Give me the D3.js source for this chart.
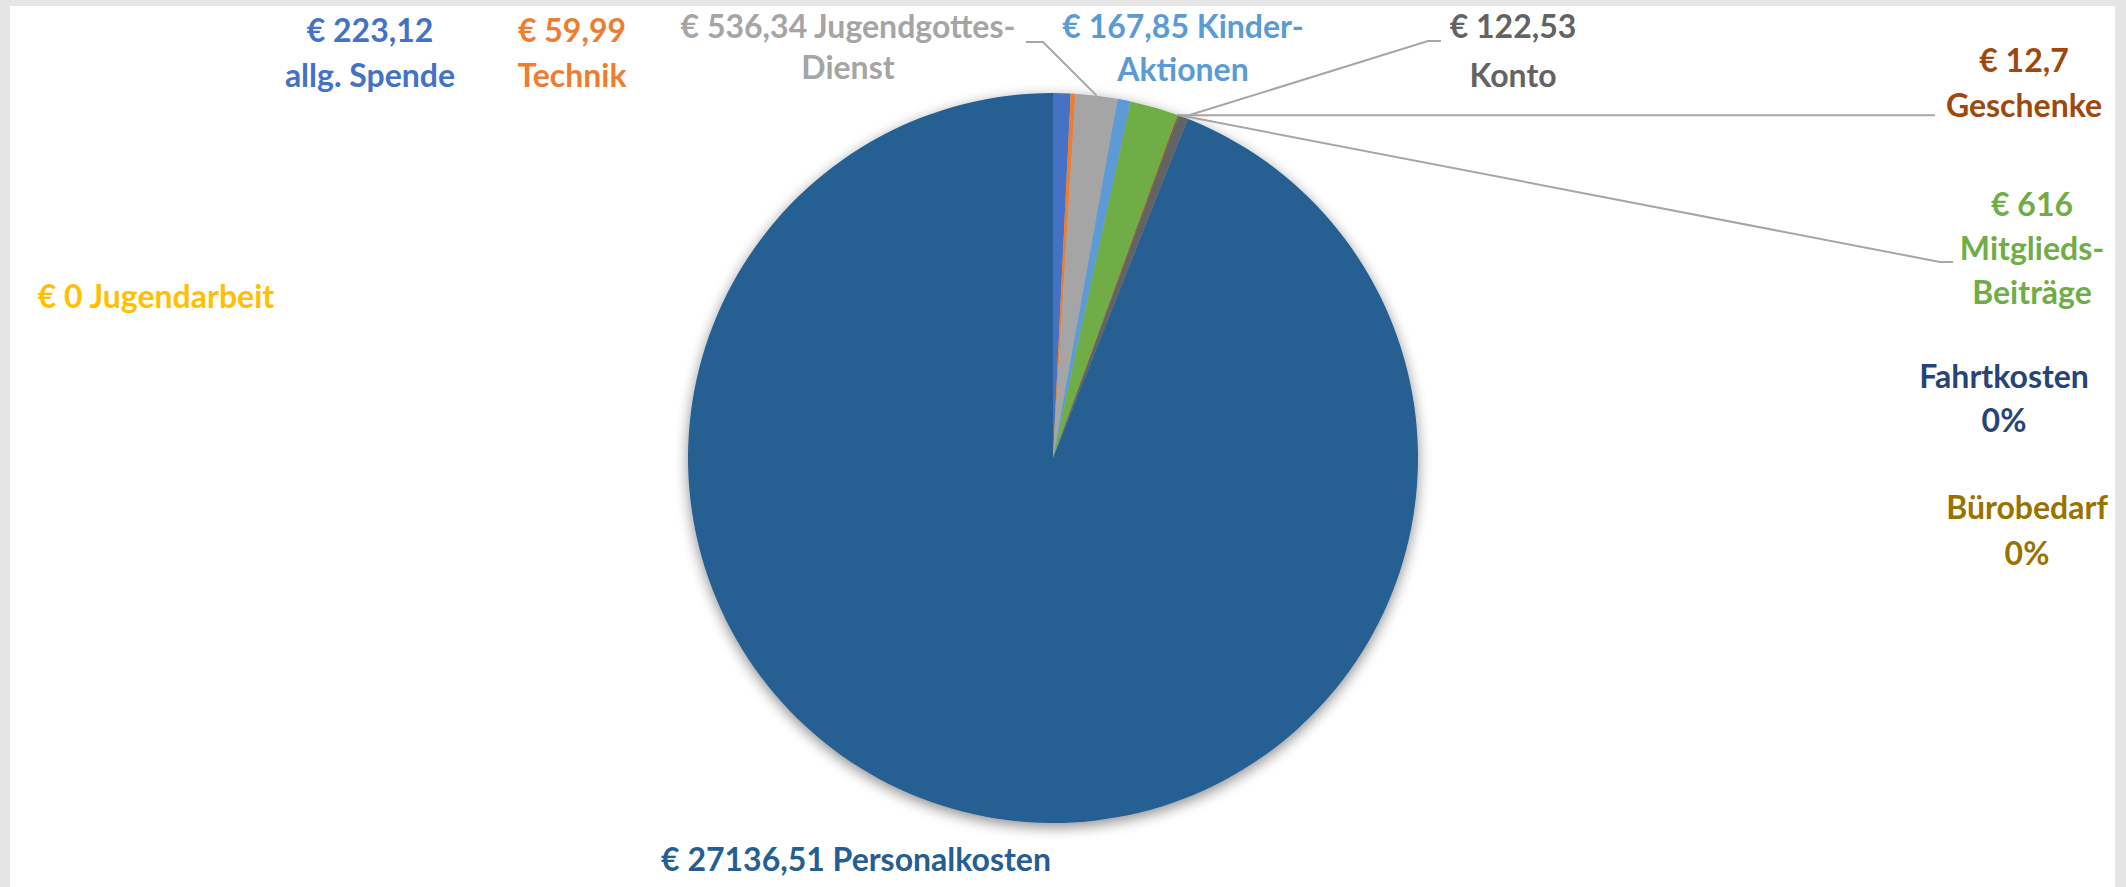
<!DOCTYPE html>
<html><head><meta charset="utf-8">
<script src="https://cdn.jsdelivr.net/npm/d3@7"></script>
<style>html,body{margin:0;padding:0;background:#e5e5e5;overflow:hidden}</style>
</head><body>
<svg id="chart" width="2126" height="887"></svg>
<script>
// ---- data ----
const categories = ["allg. Spende","Technik","Jugendgottesdienst","Jugendarbeit","Kinder-Aktionen","Mitgliedsbeiträge","Fahrtkosten","Geschenke","Konto","Bürobedarf","Personalkosten"];
const values = [223.12, 59.99, 536.34, 0, 167.85, 616, 0, 12.7, 122.53, 0, 27136.51];
const labelLines = [
  ["€ 223,12","allg. Spende"],
  ["€ 59,99","Technik"],
  ["€ 536,34 Jugendgottes-","Dienst"],
  ["€ 0 Jugendarbeit"],
  ["€ 167,85 Kinder-","Aktionen"],
  ["€ 616","Mitglieds-","Beiträge"],
  ["Fahrtkosten","0%"],
  ["€ 12,7","Geschenke"],
  ["€ 122,53","Konto"],
  ["Bürobedarf","0%"],
  ["€ 27136,51 Personalkosten"]
];
const colors = ["#4472C4","#ED7D31","#A5A5A5","#FFC000","#5B9BD5","#70AD47","#264478","#9E480E","#636363","#997300","#255E91"];

// ---- layout (positions only) ----
const W = 2126, H = 887;
const cx = 1053, cy = 458, R = 365;
const labelPos = [
  {x:370, y:31, gap:45}, {x:572, y:31, gap:45}, {x:848, y:27, gap:41}, {x:156, y:297, gap:45},
  {x:1183, y:27, gap:43}, {x:2032, y:205, gap:44}, {x:2004, y:377, gap:44}, {x:2024, y:61, gap:45},
  {x:1513, y:27, gap:49}, {x:2027, y:508, gap:46}, {x:856, y:860, gap:45}
];
// leader lines: anchor mode on slice + bend/end points
const leaders = {
  2: {mode:"mid", pts:[[1043,42],[1026,42]]},
  5: {mode:"end", pts:[[1940,262],[1953,262]]},
  7: {mode:"mid", pts:[[1935,null]]},
  8: {mode:"mid", pts:[[1428,41],[1441,41]]}
};

const svg = d3.select("#chart");
svg.append("rect").attr("x",10).attr("y",6).attr("width",2105).attr("height",H-6).attr("fill","#ffffff");

const defs = svg.append("defs");
const f = defs.append("filter").attr("id","sh").attr("x","-20%").attr("y","-20%").attr("width","140%").attr("height","140%");
f.append("feGaussianBlur").attr("in","SourceAlpha").attr("stdDeviation",7).attr("result","b");
f.append("feOffset").attr("in","b").attr("dy",4).attr("result","o");
f.append("feComponentTransfer").attr("in","o").attr("result","t")
  .append("feFuncA").attr("type","linear").attr("slope",0.45);
const m = f.append("feMerge");
m.append("feMergeNode").attr("in","t");
m.append("feMergeNode").attr("in","SourceGraphic");

const data = categories.map((c,i)=>({cat:c, value:values[i], i}));
const pie = d3.pie().value(d=>d.value).sort(null).startAngle(0).endAngle(2*Math.PI);
const arcs = pie(data);
const arc = d3.arc().innerRadius(0).outerRadius(R);

const g = svg.append("g").attr("transform",`translate(${cx},${cy})`).attr("filter","url(#sh)");
g.selectAll("path").data(arcs.filter(a=>a.data.value>0)).join("path")
  .attr("d",arc).attr("fill",d=>colors[d.data.i]);

// leader lines
const pt = a => [cx + R*Math.sin(a), cy - R*Math.cos(a)];
Object.entries(leaders).forEach(([k,L])=>{
  const a = arcs[+k];
  const ang = L.mode==="mid" ? (a.startAngle+a.endAngle)/2 : a.endAngle - 0.002;
  const p0 = pt(ang);
  const pts = [p0].concat(L.pts.map(p=>[p[0], p[1]===null ? p0[1] : p[1]]));
  svg.append("path").attr("d", d3.line()(pts))
    .attr("fill","none").attr("stroke","#a6a6a6").attr("stroke-width",2);
});

// labels
labelLines.forEach((lines,i)=>{
  const p = labelPos[i];
  const t = svg.append("text").attr("text-anchor","middle")
    .attr("font-family","Lato, 'Open Sans', sans-serif").attr("font-weight","bold")
    .attr("font-size",32).attr("fill",colors[i]);
  lines.forEach((ln,j)=>{
    t.append("tspan").attr("x",p.x).attr("y",p.y + j*p.gap).attr("dy","0.35em").text(ln);
  });
});
</script>
</body></html>
